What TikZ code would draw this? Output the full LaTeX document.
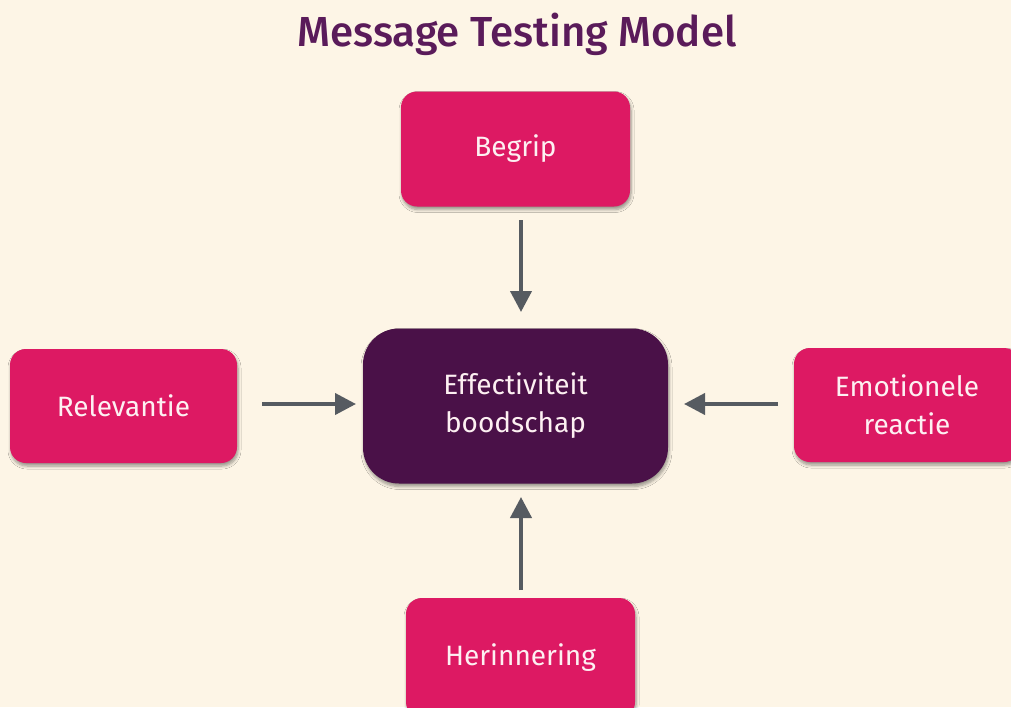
\documentclass[tikz,border=0pt]{standalone}
\usepackage{fontspec}
\setmainfont{Fira Sans}[Ligatures=NoCommon]
\IfFontExistsTF{Fira Sans Medium}{\newfontfamily\titlefont{Fira Sans Medium}}{\newfontfamily\titlefont{Fira Sans}[FakeBold=1.2]}
\usetikzlibrary{arrows.meta,shadows.blur}
\definecolor{bg}{HTML}{FDF5E6}
\definecolor{pinkbox}{HTML}{DD1963}
\definecolor{purplebox}{HTML}{4A1148}
\definecolor{titlecol}{HTML}{5A1B5A}
\definecolor{arrowcol}{HTML}{565B61}
\definecolor{boxtext}{HTML}{FDF0F2}
\tikzset{
  boxshadow/.style={blur shadow={shadow xshift=1pt, shadow yshift=-3pt, shadow blur steps=6, shadow blur radius=3pt, shadow opacity=40}},
  pinkbox/.style={rectangle, rounded corners=16pt, fill=pinkbox, text=boxtext, inner sep=0pt,
    minimum width=229pt, minimum height=115pt, align=center, boxshadow,
    font=\fontsize{28}{38}\selectfont},
  centerbox/.style={rectangle, rounded corners=36pt, fill=purplebox, text=boxtext, inner sep=0pt,
    minimum width=305pt, minimum height=155pt, align=center, boxshadow,
    font=\fontsize{28}{38}\selectfont},
  flow/.style={draw=arrowcol, line width=4pt, -{Triangle[length=21pt,width=21pt]}},
}
\begin{document}
\begin{tikzpicture}[x=1pt,y=-1pt]
\fill[bg] (0,0) rectangle (1011,707);
\useasboundingbox (0,0) rectangle (1011,707);
\node[text=titlecol, font=\fontsize{42}{48}\titlefont] (title) at (517,34) {Message Testing Model};
\node[pinkbox] (begrip) at (515.5,149) {Begrip};
\node[centerbox] (center) at (515.5,406) {Ef\kern0.3ptfectiviteit\\boodschap};
\node[pinkbox, minimum width=227pt, minimum height=114pt] (relevantie) at (123.5,406) {Relevantie};
\node[pinkbox, minimum width=226pt, minimum height=114pt] (emotie) at (907,405) {Emotionele\\reactie};
\node[pinkbox, minimum height=120pt] (herinnering) at (520.5,658) {Herinnering};
\coordinate (tA) at (521,220);
\coordinate (tB) at (521,312);
\coordinate (lA) at (262,404);
\coordinate (lB) at (356,404);
\coordinate (rA) at (778,404);
\coordinate (rB) at (684,404);
\coordinate (bA) at (521,590);
\coordinate (bB) at (521,497);
\draw[flow] (tA) -- (tB);
\draw[flow] (lA) -- (lB);
\draw[flow] (rA) -- (rB);
\draw[flow] (bA) -- (bB);
\end{tikzpicture}
\end{document}
